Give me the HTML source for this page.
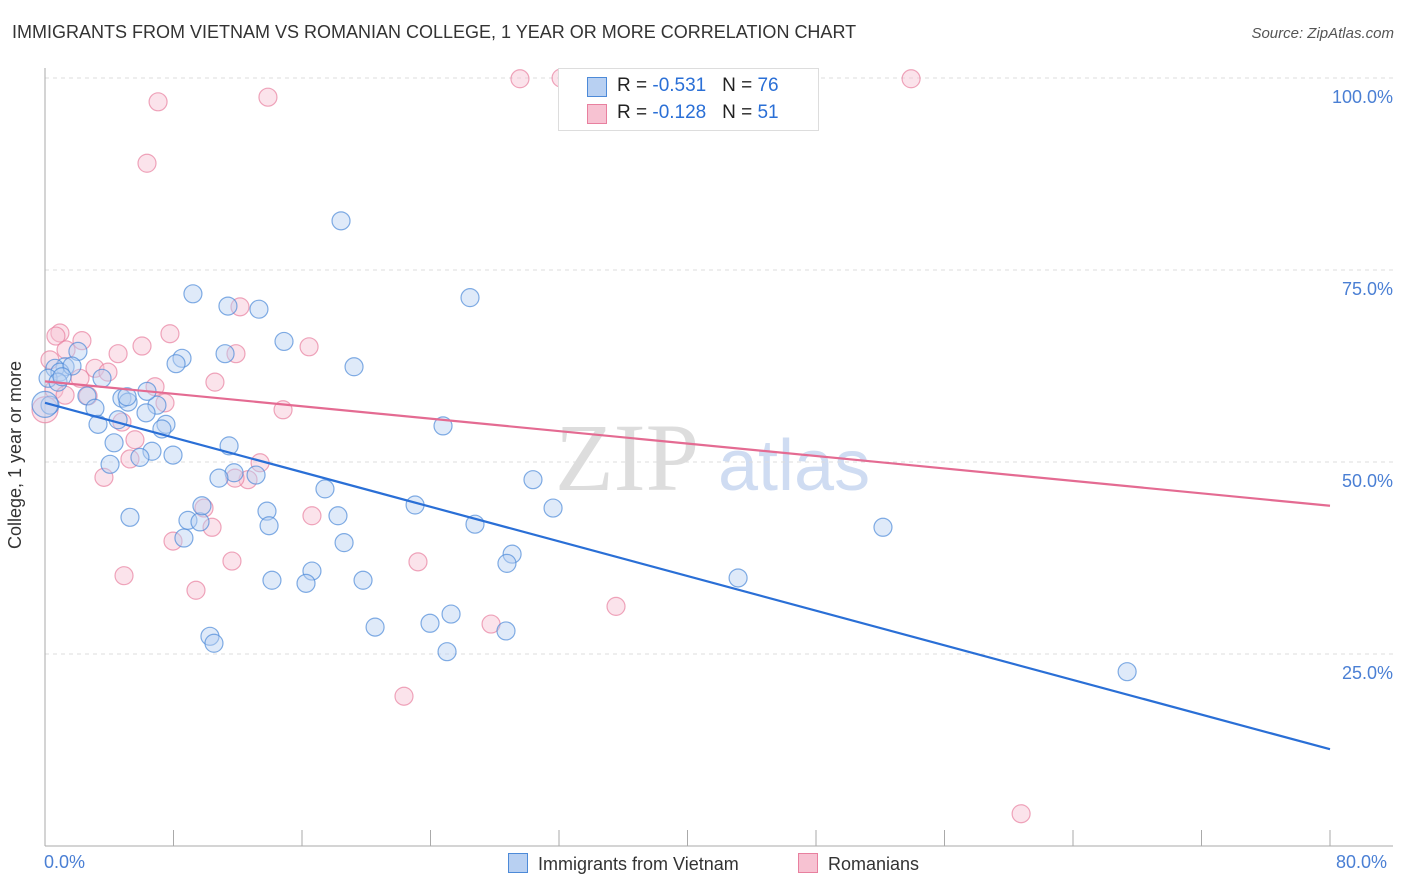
<!DOCTYPE html>
<html><head><meta charset="utf-8"><style>
body{margin:0;background:#fff;font-family:"Liberation Sans",sans-serif}
#wrap{position:relative;width:1406px;height:892px}
.t{position:absolute;white-space:nowrap}
</style></head><body><div id="wrap">
<div class="t" style="left:12px;top:22px;font-size:18px;color:#333">IMMIGRANTS FROM VIETNAM VS ROMANIAN COLLEGE, 1 YEAR OR MORE CORRELATION CHART</div>
<div class="t" style="right:12px;top:25px;font-size:15px;color:#555;font-style:italic">Source: ZipAtlas.com</div>
<svg id="svg" width="1406" height="892" style="position:absolute;left:0;top:0"></svg>
</div>
<script>
const blueX=[18.43,9.21,26.46,11.39,13.32,14.88,11.21,8.53,8.16,19.24,2.05,1.25,0.62,0.93,1.68,3.55,0.19,0.81,0.31,2.61,3.11,4.79,5.17,6.97,6.35,6.29,4.55,3.30,7.53,7.28,24.78,4.30,11.46,6.66,5.91,7.97,4.05,11.77,13.14,10.83,17.43,30.38,31.63,23.04,26.77,13.82,18.24,18.62,8.65,8.90,9.65,5.29,9.77,13.95,29.08,28.76,16.62,14.13,16.25,19.80,43.15,52.17,67.37,25.28,23.97,20.55,28.70,25.03,10.27,10.52,5.11,1.06,0];
const blueY=[81.4,71.9,71.4,70.3,69.9,65.7,64.1,63.5,62.8,62.4,64.4,62.4,62.2,61.7,62.5,60.9,60.9,60.4,57.4,58.6,57.0,58.3,57.8,57.4,59.2,56.4,55.5,54.9,54.9,54.3,54.7,52.5,52.1,51.4,50.6,50.9,49.7,48.6,48.3,47.9,46.5,47.7,44.0,44.4,41.9,43.6,43.0,39.5,40.1,42.4,42.2,42.8,44.3,41.7,38.0,36.8,35.8,34.6,34.2,34.6,34.9,41.5,22.7,30.2,29.0,28.5,28.0,25.3,27.3,26.4,58.5,61.1,57.5];
const pinkX=[29.57,53.92,32.13,7.04,13.88,6.35,12.14,0.93,0.68,2.30,1.31,7.78,16.44,6.04,11.89,4.55,3.11,3.92,2.18,0.31,0.56,10.58,6.85,2.68,7.47,14.82,4.79,5.60,5.29,13.39,12.64,3.67,16.62,9.90,10.40,7.97,23.22,11.64,4.92,9.40,27.77,35.55,22.35,60.77,0,1.25,11.83];
const pinkY=[99.9,99.9,100,96.9,97.5,88.9,70.2,66.8,66.4,65.8,64.6,66.7,65.0,65.1,64.1,64.1,62.2,61.7,60.9,63.3,59.4,60.4,59.8,58.6,57.7,56.8,55.2,52.9,50.4,49.9,47.7,48.0,43.0,44.0,41.5,39.7,37.0,37.1,35.2,33.3,28.9,31.2,19.5,4.2,56.8,58.7,47.9];
const blueTrend=[57.7,12.6];
const pinkTrend=[60.5,44.3];
const yTicks=[25,50,75,100];
const NS='http://www.w3.org/2000/svg';
const svg=document.getElementById('svg');
const sx=v=>45+v/80*1285, sy=v=>846-v/100*768;
function mk(t,a){const e=document.createElementNS(NS,t);for(const k in a)e.setAttribute(k,a[k]);svg.appendChild(e);return e;}
// watermark
let w=mk('text',{x:555,y:490,'font-size':96,'font-family':'Liberation Serif',fill:'#ddd'});w.textContent='ZIP';

let w2=mk('text',{x:718,y:490,'font-size':72,'font-family':'Liberation Sans',fill:'#cfdcf2'});w2.textContent='atlas';

yTicks.forEach(t=>{const l=mk('line',{x1:45,x2:1393,y1:sy(t),y2:sy(t),stroke:'#ddd','stroke-dasharray':'4,4'});

const tx=mk('text',{x:1393,y:sy(t)+25,'text-anchor':'end','font-size':18,fill:'#4a7fd4'});tx.textContent=t.toFixed(1)+'%';
});
let ax=mk('line',{x1:45,x2:45,y1:68,y2:846,stroke:'#aaa'});
let bx=mk('line',{x1:45,x2:1393,y1:846,y2:846,stroke:'#aaa'});
for(let i=0;i<=10;i++){const l=mk('line',{x1:sx(i*8),x2:sx(i*8),y1:830,y2:846,stroke:'#aaa'});}
function pts(X,Y,fill,stroke,name){X.forEach((x,i)=>{const big=(x===0);const c=mk('circle',{cx:sx(x),cy:sy(Y[i]),r:big?13:9,fill:fill,'fill-opacity':0.45,stroke:stroke,'stroke-opacity':0.7,'stroke-width':1.2});
});}
pts(pinkX,pinkY,'#f7c2d2','#e8809f','point-romanians');
pts(blueX,blueY,'#b8d0f2','#4d8ad8','point-vietnam');
let tl=mk('line',{x1:sx(0),y1:sy(blueTrend[0]),x2:sx(80),y2:sy(blueTrend[1]),stroke:'#2a6fd6','stroke-width':2.2});
let tp=mk('line',{x1:sx(0),y1:sy(pinkTrend[0]),x2:sx(80),y2:sy(pinkTrend[1]),stroke:'#e46b92','stroke-width':2.2});
</script>
<div class="t" style="left:5px;top:455px;transform:rotate(-90deg);transform-origin:left top;font-size:18px;color:#333;width:200px;text-align:center;margin-top:100px">College, 1 year or more</div>
<div class="t" style="left:44px;top:852px;font-size:18px;color:#4a7fd4">0.0%</div>
<div class="t" style="left:1336px;top:852px;font-size:18px;color:#4a7fd4">80.0%</div>
<div class="t" style="left:558px;top:68px;width:259px;height:61px;border:1px solid #ddd;background:#fff;font-size:19px;color:#222">
<div style="position:absolute;left:28px;top:8px;width:18px;height:18px;background:#b8d0f2;border:1px solid #4d8ad8"></div>
<div style="position:absolute;left:58px;top:6px">R = <span style="color:#2a6fd6">-0.531</span>&nbsp;&nbsp;&nbsp;N = <span style="color:#2a6fd6">76</span></div>
<div style="position:absolute;left:28px;top:35px;width:18px;height:18px;background:#f7c2d2;border:1px solid #e8809f"></div>
<div style="position:absolute;left:58px;top:33px">R = <span style="color:#2a6fd6">-0.128</span>&nbsp;&nbsp;&nbsp;N = <span style="color:#2a6fd6">51</span></div>
</div>
<div class="t" style="left:508px;top:853px;font-size:18px;color:#333"><span style="display:inline-block;width:18px;height:18px;background:#b8d0f2;border:1px solid #4d8ad8;vertical-align:-3px;margin-right:10px"></span>Immigrants from Vietnam</div>
<div class="t" style="left:798px;top:853px;font-size:18px;color:#333"><span style="display:inline-block;width:18px;height:18px;background:#f7c2d2;border:1px solid #e8809f;vertical-align:-3px;margin-right:10px"></span>Romanians</div>
</body></html>
